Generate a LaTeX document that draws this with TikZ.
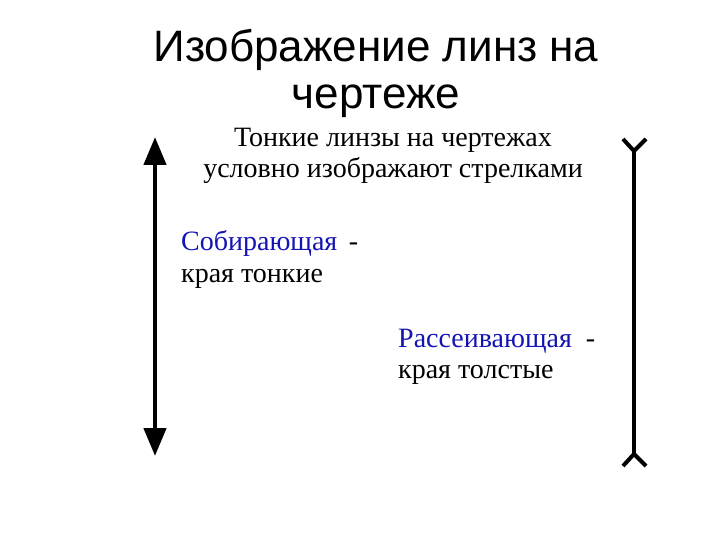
\documentclass[tikz,border=0pt]{standalone}
\usepackage{fontspec}
\setmainfont{Liberation Serif}
\newfontfamily\titlefont{Liberation Sans}
\usetikzlibrary{arrows.meta}
\definecolor{lensblue}{RGB}{20,20,180}
\begin{document}
\begin{tikzpicture}[x=1pt,y=-1pt,
  titletext/.style={font=\titlefont\fontsize{44}{50}\selectfont, align=center, inner sep=0},
  bodytext/.style={font=\fontsize{28}{31}\selectfont, inner sep=0},
  lensline/.style={line width=4.5pt},
]
\useasboundingbox (0,0) rectangle (720,540);
\node[titletext, anchor=base] (t1) at (376,62) {Изображение линз на};
\node[titletext, anchor=base] (t2) at (376,109) {чертеже};
\node[bodytext, anchor=base] (b1) at (393,147) {Тонкие линзы на чертежах};
\node[bodytext, anchor=base] (b2) at (393,178) {условно изображают стрелками};
\node[bodytext, anchor=base west] (s1) at (181,250) {\textcolor{lensblue}{Собирающая} \,-};
\node[bodytext, anchor=base west] (s2) at (181,282) {края тонкие};
\node[bodytext, anchor=base west] (r1) at (398,347) {\textcolor{lensblue}{Рассеивающая} \ -};
\node[bodytext, anchor=base west] (r2) at (398,378) {края толстые};
% converging lens
\coordinate (ctop) at (155,137);
\coordinate (cbot) at (155,456);
\draw[lensline, {Triangle[length=28pt,width=22pt]}-{Triangle[length=28pt,width=22pt]}] (ctop) -- (cbot);
% diverging lens
\coordinate (dtop) at (634,151);
\coordinate (dbot) at (634,454);
\coordinate (dtl) at (623,139);
\coordinate (dtr) at (646,139);
\coordinate (dbl) at (623,466);
\coordinate (dbr) at (646,466);
\draw[lensline] (dtop) -- (dbot);
\draw[line width=4pt] (dtl) -- (dtop) -- (dtr);
\draw[line width=4pt] (dbl) -- (dbot) -- (dbr);
\end{tikzpicture}
\end{document}
